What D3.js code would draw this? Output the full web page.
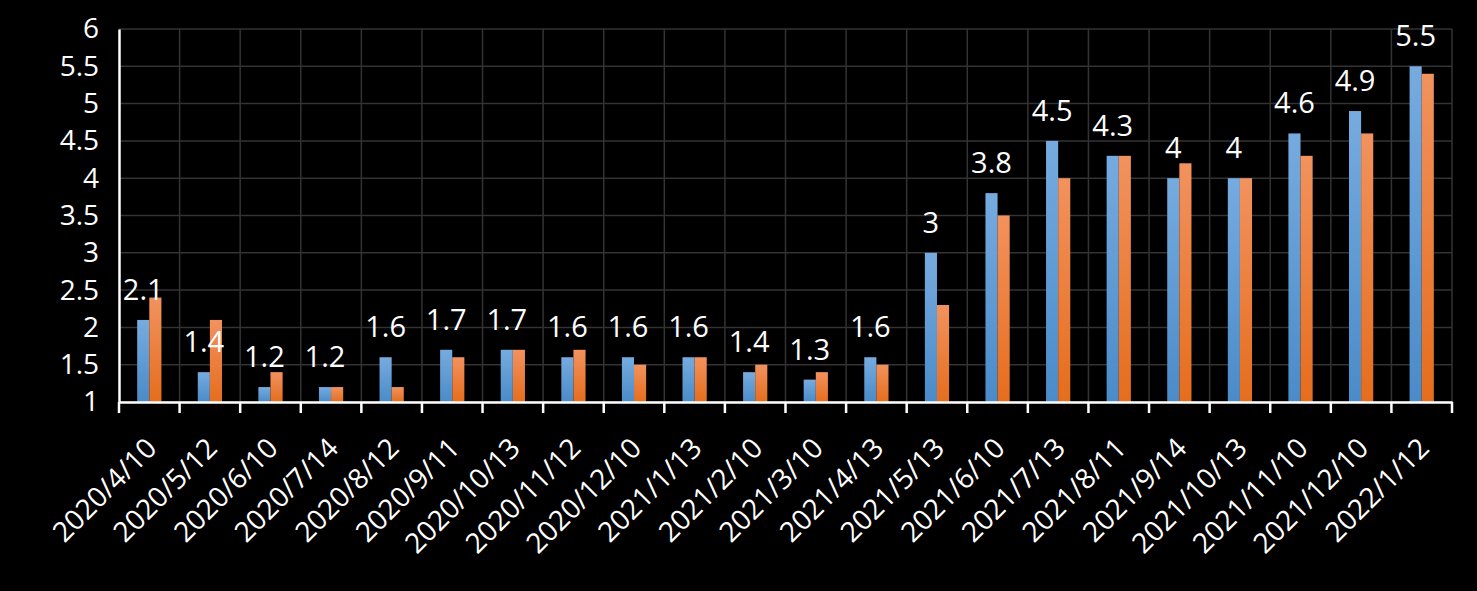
<!DOCTYPE html>
<html><head><meta charset="utf-8">
<script src="https://cdn.jsdelivr.net/npm/d3@7"></script>
<style>html,body{margin:0;padding:0;background:#000;}svg{display:block;}</style>
</head><body>
<svg id="chart" width="1477" height="591"></svg>
<script>
const categories = ["2020/4/10","2020/5/12","2020/6/10","2020/7/14","2020/8/12","2020/9/11","2020/10/13","2020/11/12","2020/12/10","2021/1/13","2021/2/10","2021/3/10","2021/4/13","2021/5/13","2021/6/10","2021/7/13","2021/8/11","2021/9/14","2021/10/13","2021/11/10","2021/12/10","2022/1/12"];
const seriesA = [2.1,1.4,1.2,1.2,1.6,1.7,1.7,1.6,1.6,1.6,1.4,1.3,1.6,3,3.8,4.5,4.3,4,4,4.6,4.9,5.5];
const seriesB = [2.4,2.1,1.4,1.2,1.2,1.6,1.7,1.7,1.5,1.6,1.5,1.4,1.5,2.3,3.5,4.0,4.3,4.2,4.0,4.3,4.6,5.4];
const yTicks = [1,1.5,2,2.5,3,3.5,4,4.5,5,5.5,6];

const font = "'Open Sans', 'Noto Sans', sans-serif";
const svg = d3.select("#chart");
const W = 1477, H = 591;
svg.append("rect").attr("width",W).attr("height",H).attr("fill","#000");

const m = {left:119, right:1452, top:29, bottom:402};
const x = d3.scaleBand().domain(categories).range([m.left, m.right]).padding(0);
const y = d3.scaleLinear().domain([1,6]).range([m.bottom, m.top]);
const bw = x.bandwidth()*0.2;

const defs = svg.append("defs");
function grad(id, top, bottom){
  const g = defs.append("linearGradient").attr("id",id).attr("x1",0).attr("y1",0).attr("x2",0).attr("y2",1);
  g.append("stop").attr("offset","0%").attr("stop-color",top);
  g.append("stop").attr("offset","100%").attr("stop-color",bottom);
}
grad("gA","#76abdf","#4a8bc9");
grad("gB","#f2925e","#e56d1d");

// grid
const grid = svg.append("g");
yTicks.forEach(t=>{
  grid.append("line").attr("x1",m.left).attr("x2",m.right).attr("y1",y(t)).attr("y2",y(t))
    .attr("stroke","#333").attr("stroke-width",1.5);
});
categories.forEach((c)=>{
  const xx = x(c) + x.bandwidth();
  grid.append("line").attr("x1",xx).attr("x2",xx).attr("y1",m.top).attr("y2",m.bottom)
    .attr("stroke","#333").attr("stroke-width",1.5);
});

// bars
svg.append("g").selectAll("rect").data(seriesA).join("rect")
  .attr("x",(d,i)=>x(categories[i])+x.bandwidth()/2-bw)
  .attr("y",d=>y(d)).attr("width",bw).attr("height",d=>y(1)-y(d))
  .attr("fill","url(#gA)");
svg.append("g").selectAll("rect").data(seriesB).join("rect")
  .attr("x",(d,i)=>x(categories[i])+x.bandwidth()/2)
  .attr("y",d=>y(d)).attr("width",bw).attr("height",d=>y(1)-y(d))
  .attr("fill","url(#gB)");

// labels
svg.append("g").selectAll("text").data(seriesA).join("text")
  .attr("x",(d,i)=>x(categories[i])+x.bandwidth()/2-bw/2)
  .attr("y",d=>y(d)-20)
  .attr("text-anchor","middle").attr("fill","#fff")
  .attr("font-family",font).attr("font-size",29)
  .text(d=>d);

// y axis
const yAxis = svg.append("g").attr("transform",`translate(${m.left},0)`)
  .call(d3.axisLeft(y).tickValues(yTicks).tickSize(0).tickPadding(20).tickFormat(d=>d));
yAxis.select(".domain").attr("stroke","#fff").attr("stroke-width",2.5);
yAxis.selectAll("text").attr("fill","#fff").attr("font-family",font).attr("font-size",28);

// x axis
const xAxis = svg.append("g").attr("transform",`translate(0,${m.bottom})`)
  .call(d3.axisBottom(x).tickSize(0).tickFormat(""));
xAxis.select(".domain").attr("stroke","#fff").attr("stroke-width",2.5);
const bounds = [m.left].concat(categories.map(c=>x(c)+x.bandwidth()));
xAxis.selectAll("line.bt").data(bounds).join("line").attr("class","bt")
  .attr("x1",d=>d).attr("x2",d=>d).attr("y1",0).attr("y2",11)
  .attr("stroke","#fff").attr("stroke-width",2.5);

svg.append("g").selectAll("text").data(categories).join("text")
  .attr("transform",d=>`translate(${x(d)+x.bandwidth()/2+9},450) rotate(-45)`)
  .attr("text-anchor","end").attr("fill","#fff")
  .attr("font-family",font).attr("font-size",28)
  .text(d=>d);
</script>
</body></html>
